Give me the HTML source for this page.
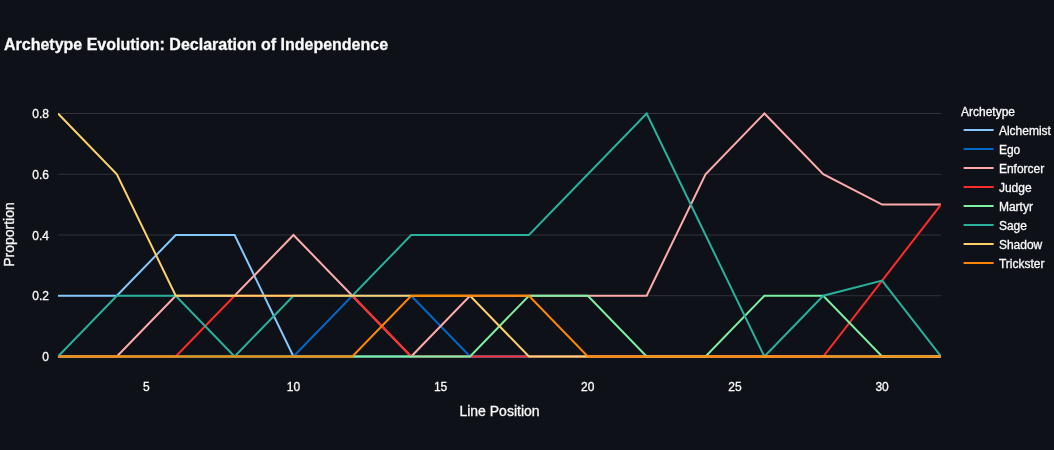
<!DOCTYPE html>
<html lang="en"><head><meta charset="utf-8"><title>Archetype Evolution: Declaration of Independence</title>
<style>
html,body{margin:0;padding:0;background:#0e1117;}
body{width:1054px;height:450px;overflow:hidden;}
svg{display:block;}
text{font-family:"Liberation Sans",Arial,Helvetica,sans-serif;fill:#fafafa;stroke:#fafafa;stroke-width:0.3px;}
.tick{font-size:12px;}
.axt{font-size:14px;}
.leg{font-size:12px;}
.ttl{font-size:16px;font-weight:bold;}
.ln{fill:none;stroke-width:2;stroke-linejoin:miter;stroke-linecap:butt;}
</style></head><body>
<svg width="1054" height="450" viewBox="0 0 1054 450">
<rect x="0" y="0" width="1054" height="450" fill="#0e1117"/>

<line x1="58.0" x2="941.0" y1="295.75" y2="295.75" stroke="#31333f" stroke-width="1"/>
<line x1="58.0" x2="941.0" y1="235.00" y2="235.00" stroke="#31333f" stroke-width="1"/>
<line x1="58.0" x2="941.0" y1="174.25" y2="174.25" stroke="#31333f" stroke-width="1"/>
<line x1="58.0" x2="941.0" y1="113.50" y2="113.50" stroke="#31333f" stroke-width="1"/>
<line x1="58.0" x2="941.0" y1="356.50" y2="356.50" stroke="#31333f" stroke-width="1"/>
<defs><clipPath id="pc"><rect x="58.0" y="101.5" width="883.0" height="267.0"/></clipPath></defs>
<g clip-path="url(#pc)">
<path class="ln" d="M58.00,295.75L116.87,295.75L175.73,235.00L234.60,235.00L293.47,356.50L352.33,356.50L411.20,356.50L470.07,356.50L528.93,356.50L587.80,356.50L646.67,356.50L705.53,356.50L764.40,356.50L823.27,356.50L882.13,356.50L941.00,356.50" stroke="#83c9ff"/>
<path class="ln" d="M58.00,356.50L116.87,356.50L175.73,356.50L234.60,356.50L293.47,356.50L352.33,295.75L411.20,295.75L470.07,356.50L528.93,356.50L587.80,356.50L646.67,356.50L705.53,356.50L764.40,356.50L823.27,356.50L882.13,356.50L941.00,356.50" stroke="#0068c9"/>
<path class="ln" d="M58.00,356.50L116.87,356.50L175.73,295.75L234.60,295.75L293.47,235.00L352.33,295.75L411.20,356.50L470.07,295.75L528.93,295.75L587.80,295.75L646.67,295.75L705.53,174.25L764.40,113.50L823.27,174.25L882.13,204.62L941.00,204.62" stroke="#ffabab"/>
<path class="ln" d="M58.00,356.50L116.87,356.50L175.73,356.50L234.60,295.75L293.47,295.75L352.33,295.75L411.20,356.50L470.07,356.50L528.93,356.50L587.80,356.50L646.67,356.50L705.53,356.50L764.40,356.50L823.27,356.50L882.13,280.56L941.00,204.62" stroke="#ff2b2b"/>
<path class="ln" d="M58.00,356.50L116.87,356.50L175.73,356.50L234.60,356.50L293.47,356.50L352.33,356.50L411.20,356.50L470.07,356.50L528.93,295.75L587.80,295.75L646.67,356.50L705.53,356.50L764.40,295.75L823.27,295.75L882.13,356.50L941.00,356.50" stroke="#7defa1"/>
<path class="ln" d="M58.00,356.50L116.87,295.75L175.73,295.75L234.60,356.50L293.47,295.75L352.33,295.75L411.20,235.00L470.07,235.00L528.93,235.00L587.80,174.25L646.67,113.50L705.53,235.00L764.40,356.50L823.27,295.75L882.13,280.56L941.00,356.50" stroke="#29b09d"/>
<path class="ln" d="M58.00,113.50L116.87,174.25L175.73,295.75L234.60,295.75L293.47,295.75L352.33,295.75L411.20,295.75L470.07,295.75L528.93,356.50L587.80,356.50L646.67,356.50L705.53,356.50L764.40,356.50L823.27,356.50L882.13,356.50L941.00,356.50" stroke="#ffd16a"/>
<path class="ln" d="M58.00,356.50L116.87,356.50L175.73,356.50L234.60,356.50L293.47,356.50L352.33,356.50L411.20,295.75L470.07,295.75L528.93,295.75L587.80,356.50L646.67,356.50L705.53,356.50L764.40,356.50L823.27,356.50L882.13,356.50L941.00,356.50" stroke="#ff8700"/>
</g>
<text class="tick" x="146.30" y="391.4" text-anchor="middle">5</text>
<text class="tick" x="293.47" y="391.4" text-anchor="middle">10</text>
<text class="tick" x="440.63" y="391.4" text-anchor="middle">15</text>
<text class="tick" x="587.80" y="391.4" text-anchor="middle">20</text>
<text class="tick" x="734.97" y="391.4" text-anchor="middle">25</text>
<text class="tick" x="882.13" y="391.4" text-anchor="middle">30</text>
<text class="tick" x="49" y="361.00" text-anchor="end">0</text>
<text class="tick" x="49" y="300.25" text-anchor="end">0.2</text>
<text class="tick" x="49" y="239.50" text-anchor="end">0.4</text>
<text class="tick" x="49" y="178.75" text-anchor="end">0.6</text>
<text class="tick" x="49" y="118.00" text-anchor="end">0.8</text>
<text class="axt" x="499.50" y="416" text-anchor="middle">Line Position</text>
<text class="axt" transform="translate(14.3,234.5) rotate(-90)" text-anchor="middle">Proportion</text>
<text class="ttl" x="4" y="50">Archetype Evolution: Declaration of Independence</text>
<text class="leg" x="961" y="116">Archetype</text>
<line x1="963.6" x2="993.6" y1="130" y2="130" stroke="#83c9ff" stroke-width="2"/>
<text class="leg" x="998.9" y="134.8">Alchemist</text>
<line x1="963.6" x2="993.6" y1="149" y2="149" stroke="#0068c9" stroke-width="2"/>
<text class="leg" x="998.9" y="153.8">Ego</text>
<line x1="963.6" x2="993.6" y1="168" y2="168" stroke="#ffabab" stroke-width="2"/>
<text class="leg" x="998.9" y="172.8">Enforcer</text>
<line x1="963.6" x2="993.6" y1="187" y2="187" stroke="#ff2b2b" stroke-width="2"/>
<text class="leg" x="998.9" y="191.8">Judge</text>
<line x1="963.6" x2="993.6" y1="206" y2="206" stroke="#7defa1" stroke-width="2"/>
<text class="leg" x="998.9" y="210.8">Martyr</text>
<line x1="963.6" x2="993.6" y1="225" y2="225" stroke="#29b09d" stroke-width="2"/>
<text class="leg" x="998.9" y="229.8">Sage</text>
<line x1="963.6" x2="993.6" y1="244" y2="244" stroke="#ffd16a" stroke-width="2"/>
<text class="leg" x="998.9" y="248.8">Shadow</text>
<line x1="963.6" x2="993.6" y1="263" y2="263" stroke="#ff8700" stroke-width="2"/>
<text class="leg" x="998.9" y="267.8">Trickster</text>
</svg></body></html>
